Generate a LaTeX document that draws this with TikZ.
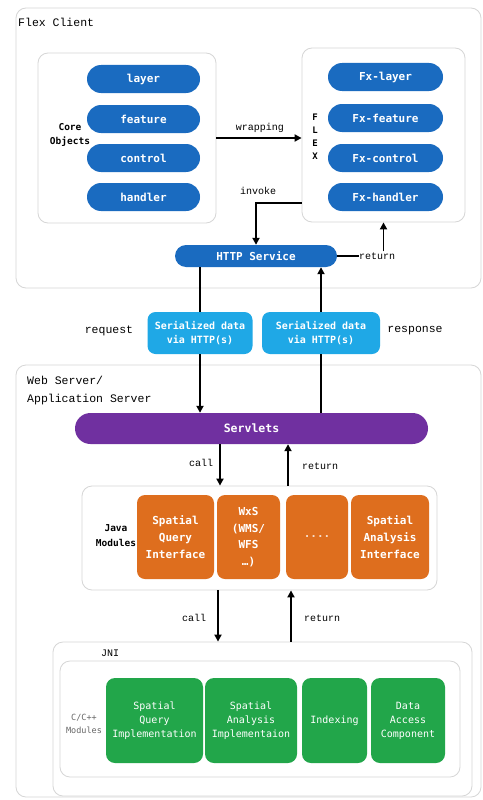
\documentclass[tikz,border=0pt]{standalone}
\usepackage{fontspec}
\setmainfont{Liberation Mono}
\newfontfamily\bxfont{DejaVu Sans Mono}
\usetikzlibrary{arrows.meta,calc}
\definecolor{pillblue}{HTML}{1A6BC0}
\definecolor{serblue}{HTML}{1FA8E6}
\definecolor{servpurple}{HTML}{7030A0}
\definecolor{javaorange}{HTML}{DE6E1E}
\definecolor{cgreen}{HTML}{22A64A}
\definecolor{panelgray}{HTML}{D6D6D6}
\tikzset{
  panel/.style={draw=panelgray, line width=0.8pt, rounded corners=10pt, fill=white},
  bxtext/.style={text=white, inner sep=0pt, align=center},
  pill/.style={bxtext, fill=pillblue, rounded corners=14pt, minimum width=113pt, minimum height=28pt,
    font=\bxfont\bfseries\fontsize{11}{12}\selectfont},
  fxpill/.style={pill, minimum width=115pt},
  serbox/.style={bxtext, fill=serblue, rounded corners=8pt, minimum height=42pt,
    font=\bxfont\bfseries\fontsize{10}{14}\selectfont},
  orbox/.style={bxtext, fill=javaorange, rounded corners=8pt, minimum height=84pt,
    font=\bxfont\bfseries\fontsize{11}{17}\selectfont},
  grbox/.style={bxtext, fill=cgreen, rounded corners=9pt, minimum height=85pt,
    font=\bxfont\fontsize{10}{14}\selectfont},
  lbl/.style={inner sep=0pt, text=black, font=\fontsize{10}{11}\selectfont},
  biglbl/.style={inner sep=0pt, text=black, font=\fontsize{11.5}{18}\selectfont},
  sidelbl/.style={inner sep=0pt, align=center, text=black, font=\bxfont\bfseries\fontsize{9.5}{14.5}\selectfont},
  conn/.style={line width=1.8pt},
  arr/.style={conn, -{Triangle[length=7pt,width=7pt]}},
}
\begin{document}
\begin{tikzpicture}[x=1pt,y=-1pt]
\useasboundingbox (0,0) rectangle (482,800);
\fill[white] (0,0) rectangle (482,800);

% ---------- Flex Client ----------
\draw[panel] (16,8) rectangle (481,288);
\node[biglbl, anchor=west] (flexclient) at (18,22) {Flex Client};

\node[panel, minimum width=178pt, minimum height=170pt, inner sep=0pt] (core) at (127,138) {};
\node[panel, minimum width=163pt, minimum height=174pt, inner sep=0pt] (flex) at (383.5,135) {};

\node[pill] (layer) at (143.5,79) {layer};
\node[pill] (feature) at (143.5,119) {feature};
\node[pill] (control) at (143.5,158) {control};
\node[pill] (handler) at (143.5,197) {handler};
\node[sidelbl] (coreobj) at (70,135) {Core\\Objects};

\node[fxpill] (fxlayer) at (385.5,77) {Fx-layer};
\node[fxpill] (fxfeature) at (385.5,118) {Fx-feature};
\node[fxpill] (fxcontrol) at (385.5,158) {Fx-control};
\node[fxpill] (fxhandler) at (385.5,197) {Fx-handler};
\node[sidelbl, font=\bxfont\bfseries\fontsize{9}{13}\selectfont] (flexv) at (315,137) {F\\L\\E\\X};

\node[pill, rounded corners=11pt, minimum width=162pt, minimum height=22pt] (http) at (256,256) {HTTP Service};

% wrapping
\draw[arr] (core.east) -- (core.east -| flex.west);
\node[lbl] (wrapping) at (260,128) {wrapping};
% invoke
\draw[arr] ([yshift=-68pt]flex.west) -| (http.north);
\node[lbl] (invoke) at (258,191) {invoke};
% return
\node[lbl] (ret0) at (377,256) {return};
\draw[conn] (http.east) -- (ret0.west);
\draw[arr] ([yshift=1pt]ret0.north -| flex.south) -- (flex.south);

% ---------- Serialized data ----------
\node[serbox, minimum width=105pt] (ser1) at (200,333) {Serialized data\\via HTTP(s)};
\node[serbox, minimum width=118pt] (ser2) at (321,333) {Serialized data\\via HTTP(s)};
\node[biglbl] (request) at (109,331) {request};
\node[biglbl] (response) at (415,331) {response};

% ---------- Web Server ----------
\draw[panel] (16,365) rectangle (481,797);
\node[biglbl, anchor=north west, align=left] (websrv) at (27,376) {Web Server/\\Application Server};

\node[bxtext, fill=servpurple, rounded corners=15.5pt, minimum width=353pt, minimum height=31pt,
  font=\bxfont\bfseries\fontsize{11.5}{12}\selectfont] (servlets) at (251.5,428.5) {Servlets};

\draw[conn] (http.south -| ser1.north) -- (ser1.north);
\draw[arr] (ser1.south) -- (ser1.south |- servlets.north);
\draw[conn] (servlets.north -| ser2.south) -- (ser2.south);
\draw[arr] (ser2.north) -- (ser2.north |- http.south);

% Java modules
\node[panel, minimum width=355pt, minimum height=104pt, inner sep=0pt] (java) at (259.5,538) {};
\node[sidelbl] (javalbl) at (116,535.5) {Java\\Modules};
\node[orbox, minimum width=77pt] (sqi) at (175.5,537) {Spatial\\Query\\Interface};
\node[orbox, minimum width=63pt, font=\bxfont\bfseries\fontsize{11}{16.5}\selectfont] (wxs) at (248.5,537) {WxS\\(WMS/\\WFS\\…)};
\node[orbox, minimum width=62pt, text=white!75!javaorange] (dots) at (317,537) {....};
\node[orbox, minimum width=78pt] (sai) at (390,537) {Spatial\\Analysis\\Interface};

\coordinate (c1) at (220,0);
\coordinate (r1) at (288,0);
\draw[arr] (servlets.south -| c1) -- (java.north -| c1);
\draw[arr] (java.north -| r1) -- (servlets.south -| r1);
\node[lbl] (call1) at (201,463) {call};
\node[lbl] (return1) at (320,466) {return};

% JNI
\node[panel, minimum width=419pt, minimum height=154pt, inner sep=0pt] (jni) at (262.5,719) {};
\node[lbl, font=\fontsize{10}{11}\selectfont] (jnilbl) at (110,653) {JNI};
\node[panel, minimum width=400pt, minimum height=116pt, inner sep=0pt] (cmods) at (260,719) {};
\node[sidelbl, text=black!60, font=\bxfont\fontsize{8.5}{13}\selectfont] (clbl) at (84,723.5) {C/C++\\Modules};
\node[grbox, minimum width=97pt] (sqimpl) at (154.5,720.5) {Spatial\\Query\\Implementation};
\node[grbox, minimum width=92pt] (saimpl) at (251,720.5) {Spatial\\Analysis\\Implementaion};
\node[grbox, minimum width=65pt] (idx) at (334.5,720.5) {Indexing};
\node[grbox, minimum width=74pt] (dac) at (408,720.5) {Data\\Access\\Component};

\coordinate (c2) at (218,0);
\coordinate (r2) at (291,0);
\draw[arr] (java.south -| c2) -- (jni.north -| c2);
\draw[arr] (jni.north -| r2) -- (java.south -| r2);
\node[lbl] (call2) at (194,618) {call};
\node[lbl] (return2) at (322,618) {return};
\end{tikzpicture}
\end{document}
